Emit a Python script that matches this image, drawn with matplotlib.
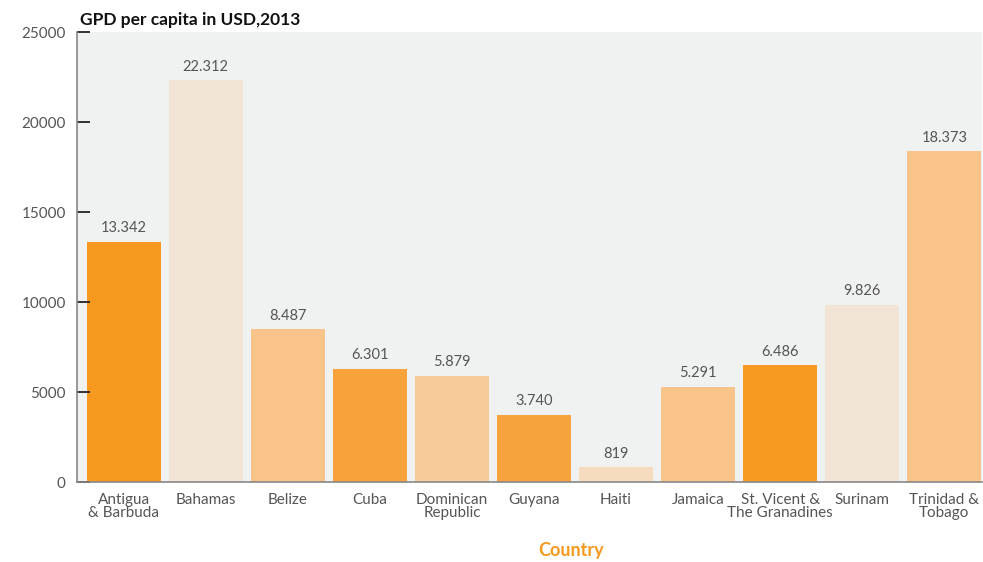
import matplotlib.pyplot as plt

paises = ['Antigua\n& Barbuda', 'Bahamas', 'Belize', 'Cuba', 'Dominican\nRepublic',
          'Guyana', 'Haiti', 'Jamaica', 'St. Vicent &\nThe Granadines', 'Surinam',
          'Trinidad &\nTobago']
pib = [13342, 22312, 8487, 6301, 5879, 3740, 819, 5291, 6486, 9826, 18373]
colores = ['#f7991f', '#f2e5d6', '#f8c48a', '#f7a23a', '#f8cc9a', '#f6a33f',
           '#f5dcbf', '#f8c48a', '#f79a22', '#f2e5d6', '#f8c48a']

plt.rcParams['font.family'] = ['Lato', 'DejaVu Sans']

fig = plt.figure(figsize=(9.83, 5.62), dpi=100)
ax = fig.add_axes([0.0783, 0.142, 0.9207, 0.801])
ax.set_facecolor('#f0f2f1')

x = list(range(len(paises)))
ax.bar(x, pib, width=0.9, color=colores)

# etiquetas de valor con punto como separador de miles
for xi, v in zip(x, pib):
    etiqueta = f'{v:,}'.replace(',', '.')
    ax.text(xi, v + 380, etiqueta, ha='center', va='bottom', fontsize=10.5, color='#555555')

ax.set_xlim(-0.57, 10.46)
ax.set_ylim(0, 25000)
ax.set_yticks(range(0, 25001, 5000))
ax.set_xticks(x)
ax.set_xticklabels(paises, fontsize=11, color='#555555', linespacing=0.9)
ax.tick_params(axis='x', length=0, pad=8)
ax.tick_params(axis='y', direction='in', length=9, width=1.3, color='#222222',
               labelsize=11, labelcolor='#555555', pad=8)

for lado in ['top', 'right']:
    ax.spines[lado].set_visible(False)
for lado in ['left', 'bottom']:
    ax.spines[lado].set_color('#888888')
    ax.spines[lado].set_linewidth(1.2)

fig.text(0.081, 0.965, 'GPD per capita in USD,2013', fontsize=12.5, fontweight='bold',
         color='#111111', ha='left', va='center')
fig.text(0.581, 0.021, 'Country', fontsize=13, fontweight='bold', color='#f7991f',
         ha='center', va='center')

plt.savefig('out.png', dpi=100)
